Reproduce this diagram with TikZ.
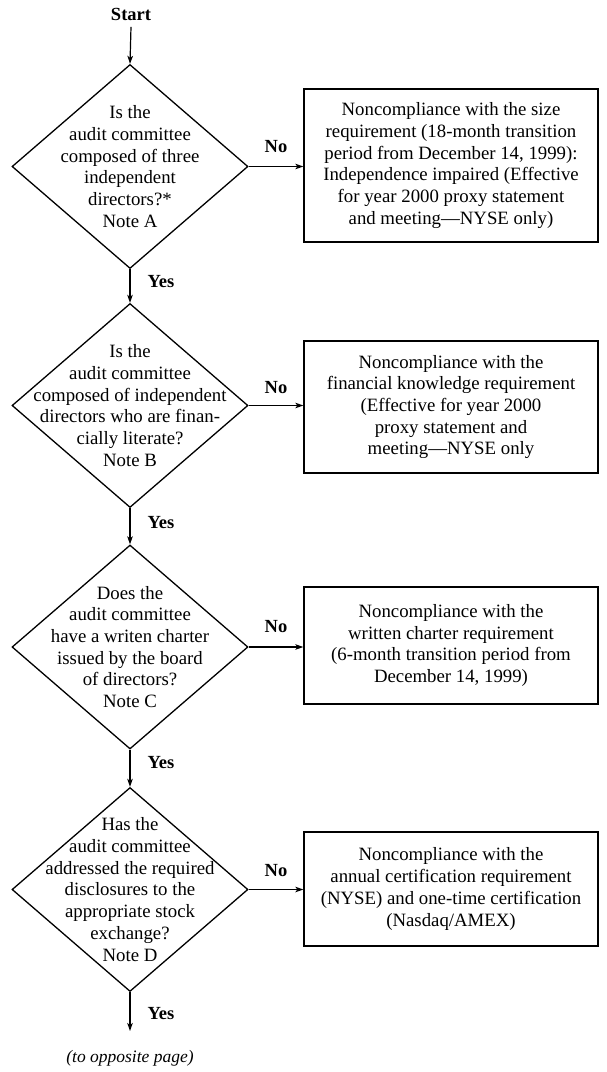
\documentclass[tikz,border=0pt]{standalone}
\usepackage{fontspec}
\setmainfont{Liberation Serif}
\usetikzlibrary{shapes.geometric,arrows.meta}
\begin{document}
\begin{tikzpicture}[x=1pt,y=-1pt,
  line width=1.2pt,
  dia/.style={diamond,draw,line width=1.3pt,minimum width=236pt,minimum height=204pt,inner sep=0pt},
  dtext/.style={align=center,inner sep=0pt,font=\fontsize{18.8}{21.7}\selectfont},
  box/.style={draw,line width=1.3pt,minimum width=294pt,align=center,inner sep=0pt,font=\fontsize{18.8}{21.7}\selectfont},
  lab/.style={font=\fontsize{18.5}{20}\selectfont\bfseries,inner sep=0pt},
  arr/.style={-{Stealth[length=8pt,width=5.5pt,inset=2pt]}}]
\useasboundingbox (0,0) rectangle (607,1072);

\node[lab] (start) at (131,14) {Start};

\node[dia] (d1) at (130,166.5) {};
\node[dtext] (t1) at (d1.center) {Is the\\audit committee\\composed of three\\independent\\directors?*\\Note A};
\node[dia] (d2) at (130,405.5) {};
\node[dtext] (t2) at (d2.center) {Is the\\audit committee\\composed of independent\\directors who are finan-\\cially literate?\\Note B};
\node[dia] (d3) at (130,647) {};
\node[dtext] (t3) at (d3.center) {Does the\\audit committee\\have a writen charter\\issued by the board\\of directors?\\Note C};
\node[dia] (d4) at (130,889.5) {};
\node[dtext] (t4) at (d4.center) {Has the\\audit committee\\addressed the required\\disclosures to the\\appropriate stock\\exchange?\\Note D};

\node[box,minimum height=153pt] (b1) at (451,165.5) {Noncompliance with the size\\requirement (18-month transition\\period from December 14, 1999):\\Independence impaired (Effective\\for year 2000 proxy statement\\and meeting---NYSE only)};
\node[box,minimum height=132pt] (b2) at (451,407) {Noncompliance with the\\financial knowledge requirement\\(Effective for year 2000\\proxy statement and\\meeting---NYSE only};
\node[box,minimum height=117pt] (b3) at (451,645.5) {Noncompliance with the\\written charter requirement\\(6-month transition period from\\December 14, 1999)};
\node[box,minimum height=114pt] (b4) at (451,889) {Noncompliance with the\\annual certification requirement\\(NYSE) and one-time certification\\(Nasdaq/AMEX)};

\coordinate (end) at (130,1031);
\node[inner sep=0pt,font=\fontsize{17.5}{20}\selectfont\itshape] (opp) at (130,1058) {(to opposite page)};

\draw[arr] (start.south) ++(0,6) -- (d1.north);
\draw[arr] (d1.south) -- (d2.north);
\draw[arr] (d2.south) -- (d3.north);
\draw[arr] (d3.south) -- (d4.north);
\draw[arr] (d4.south) -- (end);

\draw[arr] (d1.east) -- (d1.east -| b1.west);
\draw[arr] (d2.east) -- (d2.east -| b2.west);
\draw[arr] (d3.east) -- (d3.east -| b3.west);
\draw[arr] (d4.east) -- (d4.east -| b4.west);

\node[lab] (n1) at (276,147) {No};
\node[lab] (n2) at (276,388) {No};
\node[lab] (n3) at (276,627) {No};
\node[lab] (n4) at (276,871) {No};

\node[lab] (y1) at (161,282) {Yes};
\node[lab] (y2) at (161,523) {Yes};
\node[lab] (y3) at (161,763) {Yes};
\node[lab] (y4) at (161,1014) {Yes};
\end{tikzpicture}
\end{document}
